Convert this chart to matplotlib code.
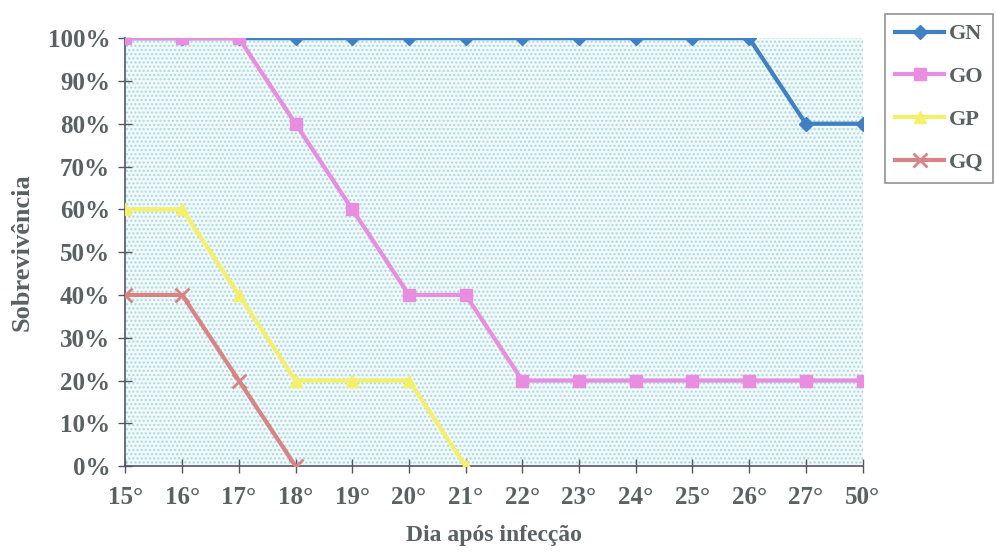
import matplotlib
matplotlib.use("Agg")
import matplotlib.pyplot as plt
from matplotlib.patches import Rectangle
from matplotlib.ticker import PercentFormatter

# dados
dias = ["15°", "16°", "17°", "18°", "19°", "20°", "21°",
        "22°", "23°", "24°", "25°", "26°", "27°", "50°"]
gn = [1.0, 1.0, 1.0, 1.0, 1.0, 1.0, 1.0, 1.0, 1.0, 1.0, 1.0, 1.0, 0.8, 0.8]
go = [1.0, 1.0, 1.0, 0.8, 0.6, 0.4, 0.4, 0.2, 0.2, 0.2, 0.2, 0.2, 0.2, 0.2]
gp = [0.6, 0.6, 0.4, 0.2, 0.2, 0.2, 0.0]
gq = [0.4, 0.4, 0.2, 0.0]

plt.rcParams["font.family"] = ["Liberation Serif", "DejaVu Serif"]
plt.rcParams["font.weight"] = "bold"
txt = "#5a6163"

fig = plt.figure(figsize=(9.96, 5.53), dpi=100)
ax = fig.add_axes([0.126, 0.157, 0.740, 0.774])

# fundo pontilhado azul claro
ax.set_facecolor("#f1f9fa")
ax.add_patch(Rectangle((0, 0), 1, 1, transform=ax.transAxes, facecolor="none",
                       edgecolor="#a9d8df", hatch="....", lw=0, zorder=0))

x = range(len(dias))
ax.plot(x, gn, color="#3f7fc4", lw=3, marker="D", ms=7, label="GN", zorder=3)
ax.plot(x, go, color="#e98de0", lw=3, marker="s", ms=9, label="GO", zorder=3)
ax.plot(range(len(gp)), gp, color="#f4f06a", lw=3, marker="^", ms=9, label="GP", zorder=3)
ax.plot(range(len(gq)), gq, color="#d98484", lw=3, marker="x", ms=10, mew=2,
        label="GQ", zorder=3)

ax.set_xlim(0, len(dias) - 1)
ax.set_ylim(0, 1)
ax.set_xticks(list(x))
ax.set_xticklabels(dias)
ax.set_yticks([i / 10 for i in range(11)])
ax.yaxis.set_major_formatter(PercentFormatter(1.0, decimals=0))

for s in ["top", "right"]:
    ax.spines[s].set_visible(False)
for s in ["left", "bottom"]:
    ax.spines[s].set_color("#556")
    ax.spines[s].set_linewidth(1.2)

ax.tick_params(axis="both", direction="inout", length=10, width=1, color="#556",
               labelsize=18, labelcolor=txt)
ax.tick_params(axis="x", pad=9)
ax.tick_params(axis="y", pad=6)

ax.set_ylabel("Sobrevivência", fontsize=19, color=txt, labelpad=10,
              fontweight="bold")
ax.set_xlabel("Dia após infecção", fontsize=17, color=txt, labelpad=12,
              fontweight="bold")

leg = fig.legend(loc="upper left", bbox_to_anchor=(0.889, 0.975), fontsize=16,
                 frameon=True, handlelength=2.2, labelspacing=1.0,
                 borderpad=0.45, handletextpad=0.2, borderaxespad=0)
leg.get_frame().set_edgecolor("#777")
leg.get_frame().set_linewidth(1.2)
leg.get_frame().set_boxstyle("square", pad=0)
for t in leg.get_texts():
    t.set_color(txt)

fig.savefig("out.png", dpi=100)
